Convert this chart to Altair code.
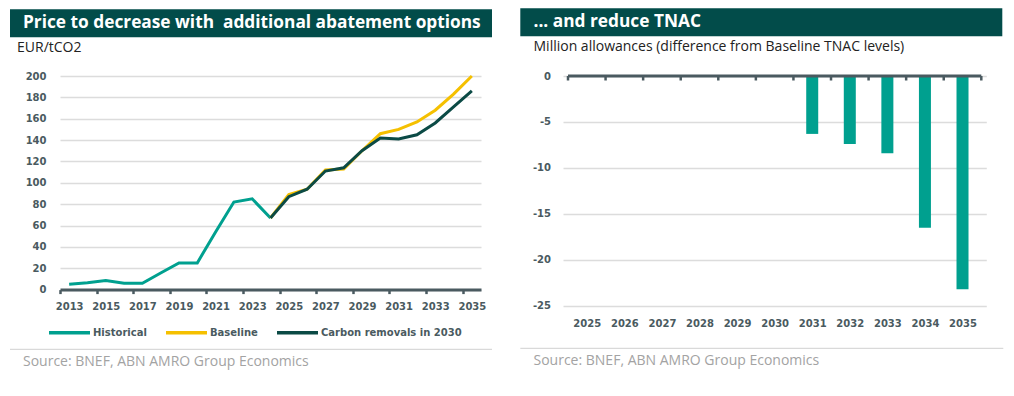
import altair as alt
import pandas as pd

# ---------------- data ----------------
hist_years = list(range(2013, 2025))
hist_vals = [5, 6.5, 8.5, 6, 6, 15.5, 25, 25, 54, 82, 85, 67]
proj_years = list(range(2024, 2036))
baseline_vals = [67, 89, 94, 112, 113, 130, 146, 150, 157, 168, 183, 200]
carbon_vals = [67, 87, 94, 111, 114, 130, 142, 141, 145, 156, 171, 186]
series_names = ["Historical", "Baseline", "Carbon removals in 2030"]
series_colors = ["#00a08f", "#f5c000", "#0b4a45"]
left_x_labels = list(range(2013, 2036, 2))
left_y_ticks = list(range(0, 201, 20))

bar_years = list(range(2025, 2036))
tnac_vals = [0, 0, 0, 0, 0, 0, -6.3, -7.4, -8.4, -16.5, -23.2]
right_y_ticks = [0, -5, -10, -15, -20, -25]
right_tick_bounds = [y - 0.5 for y in range(2025, 2037)]

left_title = "Price to decrease with \u00a0additional abatement options"
right_title = "... and reduce TNAC"
left_unit = "EUR/tCO2"
right_unit = "Million allowances (difference from Baseline TNAC levels)"
source_text = "Source: BNEF, ABN AMRO Group Economics"

TEAL = "#00a08f"
HEADER = "#024c4a"
AXIS = "#4a5a60"
GRID = "#dcdcdc"
SRC = "#a3a3a3"
SEP = "#d0d0d0"
LABEL_FONT = "DejaVu Sans"
TEXT_FONT = "Open Sans"

rows = []
for y, v in zip(hist_years, hist_vals):
    rows.append({"year": y, "value": v, "series": series_names[0]})
for y, v in zip(proj_years, baseline_vals):
    rows.append({"year": y, "value": v, "series": series_names[1]})
for y, v in zip(proj_years, carbon_vals):
    rows.append({"year": y, "value": v, "series": series_names[2]})
line_df = pd.DataFrame(rows)

bar_df = pd.DataFrame({"year": bar_years, "value": tnac_vals})
bound_df = pd.DataFrame({"year": right_tick_bounds})
one = pd.DataFrame({"a": [0]})


def txt(s, x, y, size, color, weight="normal"):
    return alt.Chart(one).mark_text(
        text=s, align="left", baseline="middle", color=color,
        font=TEXT_FONT, fontWeight=weight, fontSize=size).encode(
        x=alt.value(x), y=alt.value(y))


# ---------------- left panel ----------------
LW, LH = 421, 213.6
xs_left = alt.X("year:Q",
                scale=alt.Scale(domain=[2012.5, 2035.5], nice=False, zero=False),
                axis=alt.Axis(values=left_x_labels, format="d", title=None, grid=False,
                              domain=True, domainColor=AXIS, domainWidth=3,
                              ticks=True, tickColor=AXIS, tickWidth=2.5, tickSize=4,
                              tickOffset=-9.15, labelOffset=9.15, labelPadding=8,
                              labelFont=LABEL_FONT,
                              labelFontSize=10, labelFontWeight="bold", labelColor=AXIS,
                              labelFlush=False))
ys_left = alt.Y("value:Q",
                scale=alt.Scale(domain=[0, 200], nice=False),
                axis=alt.Axis(values=left_y_ticks, title=None, grid=True, gridColor=GRID,
                              gridWidth=1.5, domain=False, ticks=False, tickSize=0,
                              labelPadding=14, labelFont=LABEL_FONT, labelFontSize=10,
                              labelFontWeight="bold", labelColor=AXIS))

lines = alt.Chart(line_df).mark_line(strokeWidth=3, strokeJoin="miter").encode(
    x=xs_left, y=ys_left,
    color=alt.Color("series:N",
                    scale=alt.Scale(domain=series_names, range=series_colors),
                    legend=alt.Legend(title=None, orient="none", direction="horizontal",
                                      legendX=-13, legendY=234, symbolType="stroke",
                                      symbolSize=1681, symbolStrokeWidth=3.5,
                                      labelOffset=1, columnPadding=12,
                                      labelFont=LABEL_FONT, labelFontSize=10,
                                      labelFontWeight="bold", labelColor=AXIS)),
    detail="series:N")

lbar = alt.Chart(one).mark_rect(color=HEADER).encode(
    x=alt.value(-50), x2=alt.value(432), y=alt.value(-66.7), y2=alt.value(-38.7))
lsep = alt.Chart(one).mark_rule(color=SEP, strokeWidth=1).encode(
    x=alt.value(-50), x2=alt.value(432), y=alt.value(273.3))
left = alt.layer(
    lbar,
    txt(left_title, -37, -52.7, 17.3, "white", "bold"),
    txt(left_unit, -43, -27.7, 14, "#222222"),
    lines,
    lsep,
    txt(source_text, -37, 286.3, 14, SRC),
).properties(width=LW, height=LH)

# ---------------- right panel ----------------
RW, RH = 423.3, 229.8
xs_right = alt.X("year:Q",
                 scale=alt.Scale(domain=[2024.5, 2035.5], nice=False, zero=False),
                 axis=alt.Axis(values=bar_years, format="d", title=None, grid=False,
                               domain=False, ticks=False, tickSize=0, labelPadding=13,
                               labelFont=LABEL_FONT, labelFontSize=10,
                               labelFontWeight="bold", labelColor=AXIS, labelFlush=False))
ys_right = alt.Y("value:Q",
                 scale=alt.Scale(domain=[-25, 0], nice=False, zero=False),
                 axis=alt.Axis(values=right_y_ticks, title=None, grid=True, gridColor=GRID,
                               gridWidth=1.5, domain=False, ticks=False, tickSize=0,
                               labelExpr="toString(datum.value)",
                               labelPadding=12.5, labelFont=LABEL_FONT, labelFontSize=10,
                               labelFontWeight="bold", labelColor=AXIS))

bars = alt.Chart(bar_df).mark_bar(size=12, color=TEAL).encode(x=xs_right, y=ys_right)
zero_line = alt.Chart(one).mark_rule(color=AXIS, strokeWidth=3).encode(
    x=alt.datum(2024.5), x2=alt.datum(2035.5), y=alt.datum(0))
zero_ticks = alt.Chart(bound_df).mark_rule(color=AXIS, strokeWidth=2.5).encode(
    x=alt.X("year:Q"), y=alt.value(0), y2=alt.value(4.5))

rbar = alt.Chart(one).mark_rect(color=HEADER).encode(
    x=alt.value(-42.7), x2=alt.value(439.3), y=alt.value(-67.7), y2=alt.value(-39.7))
rsep = alt.Chart(one).mark_rule(color=SEP, strokeWidth=1).encode(
    x=alt.value(-42.7), x2=alt.value(440.3), y=alt.value(272.3))
right = alt.layer(
    rbar,
    txt(right_title, -29.5, -53.7, 17.3, "white", "bold"),
    txt(right_unit, -29.5, -28.7, 14, "#222222"),
    bars,
    zero_line,
    zero_ticks,
    rsep,
    txt(source_text, -29.5, 285.3, 14, SRC),
).properties(width=RW, height=RH)

chart = alt.hconcat(left, right, spacing=26).configure_view(stroke=None).properties(
    padding={"left": 1, "top": 0, "right": 0, "bottom": 0})

chart.save("out.html", embed_options={"renderer": "svg", "actions": False})
